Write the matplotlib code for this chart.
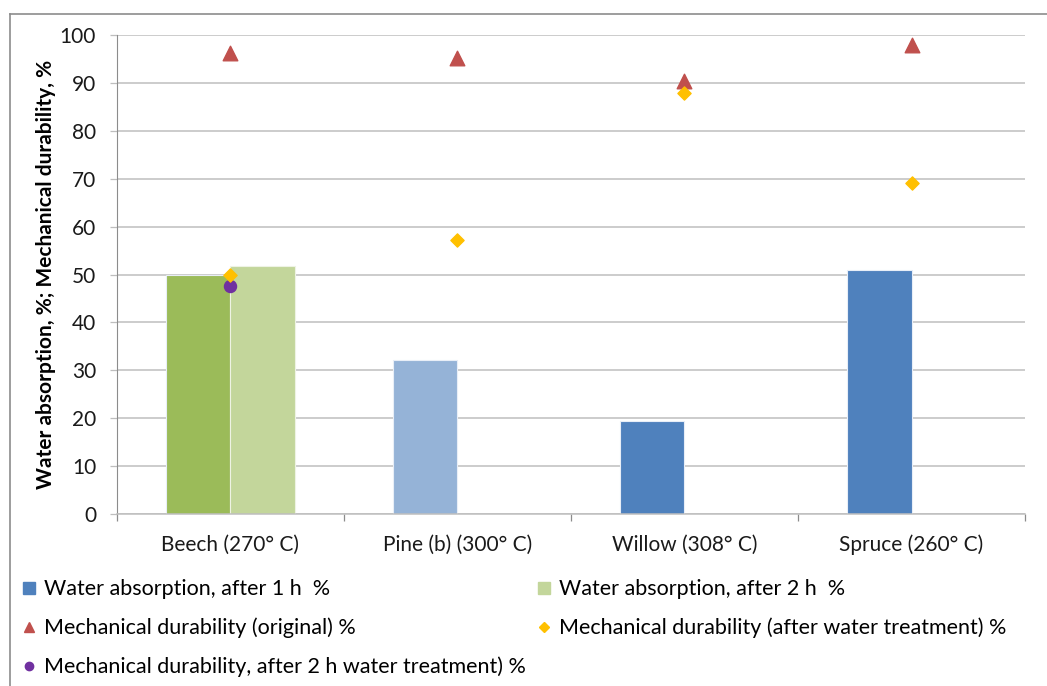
import numpy as np
import matplotlib.pyplot as plt
from matplotlib.lines import Line2D

plt.rcParams['font.family'] = ['Lato', 'DejaVu Sans']

categories = ['Beech (270° C)', 'Pine (b) (300° C)', 'Willow (308° C)', 'Spruce (260° C)']
water_1h = [50.0, 32.2, 19.4, 50.9]
water_2h = [51.7, np.nan, np.nan, np.nan]
durability_orig = [96.2, 95.2, 90.4, 97.9]
durability_water = [49.8, 57.1, 87.9, 69.1]
durability_2h = [47.7, np.nan, np.nan, np.nan]

bar_1h_colors = ['#9BBB59', '#95B3D7', '#4F81BD', '#4F81BD']
bar_2h_color = '#C3D69B'

fig = plt.figure(figsize=(10.47, 6.86), dpi=100)
ax = fig.add_axes([0.1117, 0.2507, 0.8673, 0.6983])

x = np.arange(len(categories))
w = 0.286
ax.bar(x - w / 2, water_1h, w, color=bar_1h_colors, edgecolor='#E8EEF7', linewidth=0.8, zorder=2)
ax.bar(x + w / 2, water_2h, w, color=bar_2h_color, edgecolor='#EEF3E4', linewidth=0.8, zorder=2)

ax.scatter(x, durability_orig, marker='^', s=110, color='#C0504D', zorder=3)
ax.scatter(x, durability_water, marker='D', s=45, color='#FFC000', zorder=4)
ax.scatter(x, durability_2h, marker='o', s=75, color='#7030A0', zorder=3)

ax.set_xlim(-0.5, 3.5)
ax.set_ylim(0, 100)
ax.set_yticks(np.arange(0, 101, 10))
ax.set_xticks(x)
ax.set_xticklabels(categories)
ax.set_xticks(np.arange(-0.5, 3.6, 1), minor=True)
ax.tick_params(axis='x', which='major', length=0, pad=15, labelsize=15, colors='#1A1A1A')
ax.tick_params(axis='x', which='minor', length=5, width=0.9, color='#8C8C8C')
ax.tick_params(axis='y', length=5, width=0.9, color='#BEBEBE', pad=10, labelsize=15, labelcolor='#1A1A1A')

ax.grid(axis='y', color='#BEBEBE', linewidth=1.1, zorder=0)
ax.set_axisbelow(True)
for s in ['top', 'right']:
    ax.spines[s].set_visible(False)
ax.spines['left'].set_color('#8C8C8C')
ax.spines['bottom'].set_color('#BEBEBE')
ax.spines['bottom'].set_linewidth(1.1)

ax.set_ylabel('Water absorption, %; Mechanical durability, %', fontsize=15, fontweight='bold', color='#000000')
ax.yaxis.set_label_coords(-0.067, 0.5)

handles = [
    Line2D([], [], marker='s', ls='none', color='#4F81BD', markersize=9),
    Line2D([], [], marker='^', ls='none', color='#C0504D', markersize=7),
    Line2D([], [], marker='o', ls='none', color='#7030A0', markersize=6),
    Line2D([], [], marker='s', ls='none', color=bar_2h_color, markersize=9),
    Line2D([], [], marker='D', ls='none', color='#FFC000', markersize=5.5),
]
labels = [
    'Water absorption, after 1 h  %',
    'Mechanical durability (original) %',
    'Mechanical durability, after 2 h water treatment) %',
    'Water absorption, after 2 h  %',
    'Mechanical durability (after water treatment) %',
]
fig.legend(handles, labels, ncol=2, loc='upper left', bbox_to_anchor=(0.013, 0.168),
           frameon=False, fontsize=15.5, handlelength=0.6, handletextpad=0.4,
           labelspacing=0.85, columnspacing=0.55, borderaxespad=0)

# chart frame on the left and top
fig.add_artist(Line2D([0.0096, 0.0096], [0.0, 0.98], color='#8C8C8C', lw=1.2))
fig.add_artist(Line2D([0.0096, 1.0], [0.98, 0.98], color='#8C8C8C', lw=1.2))

fig.savefig('out.png', dpi=100)
